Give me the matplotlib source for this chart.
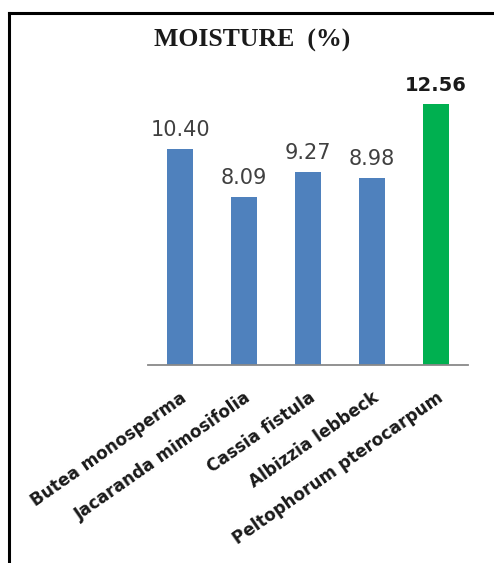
import matplotlib
matplotlib.use("Agg")
import matplotlib.pyplot as plt
from matplotlib.lines import Line2D

species = ["Butea monosperma", "Jacaranda mimosifolia", "Cassia fistula",
           "Albizzia lebbeck", "Peltophorum pterocarpum"]
moisture = [10.40, 8.09, 9.27, 8.98, 12.56]
labels = ["10.40", "8.09", "9.27", "8.98", "12.56"]
best = 4  # highlighted bar

blue = "#4F81BD"
green = "#00B050"

fig = plt.figure(figsize=(4.94, 5.63), dpi=100)
W, H = 494, 563
ax = fig.add_axes([148 / W, (H - 365) / H, 320 / W, 291.2 / H])

colors = [green if i == best else blue for i in range(len(moisture))]
x = list(range(len(moisture)))
ax.bar(x, moisture, width=0.4, color=colors)

for i, (v, s) in enumerate(zip(moisture, labels)):
    ax.annotate(s, (i, v), xytext=(0, 13.5), textcoords="offset points",
                ha="center", va="center", fontsize=15 if i != best else 14,
                fontweight="bold" if i == best else "normal",
                color="#1a1a1a" if i == best else "#404040")

ax.set_xlim(-0.5, 4.5)
ax.set_ylim(0, 14)
ax.set_yticks([])
for side in ["top", "right", "left"]:
    ax.spines[side].set_visible(False)
ax.spines["bottom"].set_color("#898989")
ax.spines["bottom"].set_linewidth(1.3)
ax.set_xticks(x)
ax.set_xticklabels(species, rotation=35, ha="right", va="top",
                   rotation_mode="anchor", fontsize=12.2, fontweight="bold",
                   color="#1a1a1a")
ax.tick_params(axis="x", length=0, pad=17)

fig.text(252 / W, 1 - 40 / H, "MOISTURE  (%)", ha="center", va="center",
         fontsize=18.5, fontweight="bold", family="Liberation Serif",
         color="#1a1a1a")

# frame lines of the original picture
fig.add_artist(Line2D([9 / W, 9 / W], [0, 1 - 13 / H], color="black",
                      lw=2.2, transform=fig.transFigure))
fig.add_artist(Line2D([9 / W, 1], [1 - 13 / H, 1 - 13 / H], color="black",
                      lw=2.2, transform=fig.transFigure))

fig.savefig("out.png", dpi=100)
